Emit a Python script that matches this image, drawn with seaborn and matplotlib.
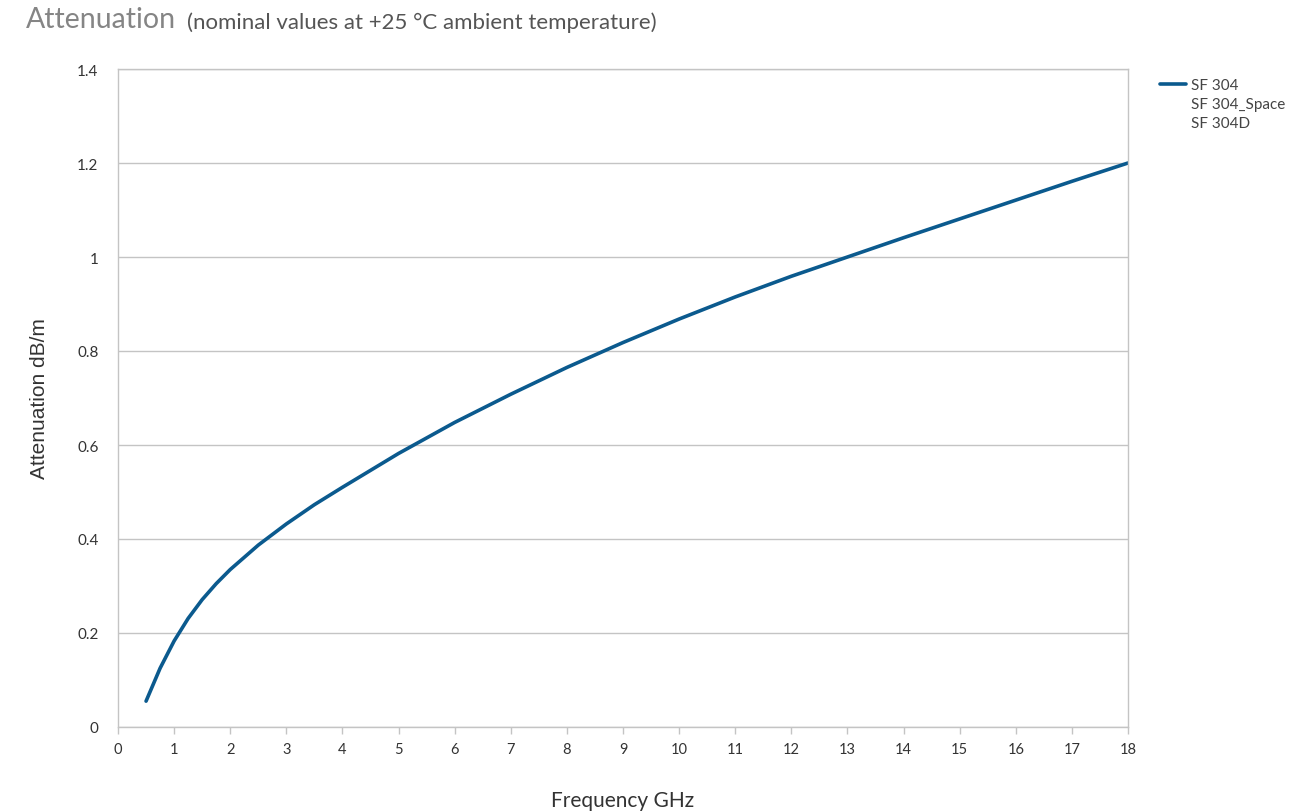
import matplotlib
matplotlib.use('Agg')
import matplotlib.pyplot as plt
import pandas as pd
import seaborn as sns
from matplotlib.lines import Line2D

# Werte
freq_ghz = [0.5, 0.75, 1, 1.25, 1.5, 1.75, 2, 2.5, 3, 3.5, 4, 5, 6, 7, 8, 9, 10, 11, 12, 13, 14, 15, 16, 17, 18]
atten_db_m = [0.055, 0.125, 0.183, 0.231, 0.271, 0.305, 0.335, 0.387, 0.432, 0.473, 0.51, 0.582, 0.648, 0.708,
              0.765, 0.818, 0.868, 0.915, 0.959, 1.0, 1.041, 1.081, 1.121, 1.161, 1.2]
series_names = ['SF 304', 'SF 304_Space', 'SF 304D']
x_ticks = list(range(0, 19))
y_ticks = [0, 0.2, 0.4, 0.6, 0.8, 1.0, 1.2, 1.4]
y_tick_labels = ['0', '0.2', '0.4', '0.6', '0.8', '1', '1.2', '1.4']

df = pd.DataFrame({'freq': freq_ghz, 'atten': atten_db_m})

sns.set_style('white')
plt.rcParams['font.family'] = ['Lato', 'DejaVu Sans']

line_color = '#0b5a8e'
grid_color = '#c4c4c4'

fig = plt.figure(figsize=(13.08, 8.12), dpi=100)
ax = fig.add_axes([118 / 1308, 1 - 728 / 812, (1128 - 118) / 1308, (728 - 70) / 812])

sns.lineplot(data=df, x='freq', y='atten', ax=ax, color=line_color, linewidth=2.6, legend=False)

ax.set_xlim(0, 18)
ax.set_ylim(0, 1.4)
ax.set_xticks(x_ticks)
ax.set_xticklabels([str(t) for t in x_ticks], fontsize=10.5, color='#333333')
ax.set_yticks(y_ticks)
ax.set_yticklabels(y_tick_labels, fontsize=11, color='#333333')
ax.tick_params(axis='x', length=5, width=1, color=grid_color, pad=6, bottom=True)
ax.tick_params(axis='y', length=0, pad=14)

ax.yaxis.grid(True, color=grid_color, linewidth=1)
ax.xaxis.grid(False)
for s in ax.spines.values():
    s.set_color(grid_color)
    s.set_linewidth(1)
    s.set_visible(True)

ax.set_xlabel('Frequency GHz', fontsize=15, color='#333333', labelpad=24)
ax.set_ylabel('Attenuation dB/m', fontsize=15, color='#333333', labelpad=20,
              family=['Liberation Sans', 'DejaVu Sans'])

# Titel
fig.text(26 / 1308, 1 - 20 / 812, 'Attenuation', fontsize=20.5, color='#858585',
         fontweight='normal', va='center', ha='left')
fig.text(187 / 1308, 1 - 23 / 812, '(nominal values at +25 °C ambient temperature)', fontsize=16,
         color='#555555', fontweight='normal', va='center', ha='left')

# Legende: nur die erste Serie ist sichtbar
handles = [Line2D([], [], color=line_color, linewidth=2.6),
           Line2D([], [], color='none'),
           Line2D([], [], color='none')]
leg = fig.legend(handles, series_names, loc='upper left', bbox_to_anchor=(1160 / 1308, 1 - 79 / 812),
                 frameon=False, fontsize=11, handlelength=1.7, handletextpad=0.35, labelspacing=0.33,
                 borderaxespad=0, borderpad=0)
for t in leg.get_texts():
    t.set_color('#444444')

fig.savefig('out.png', dpi=100)
